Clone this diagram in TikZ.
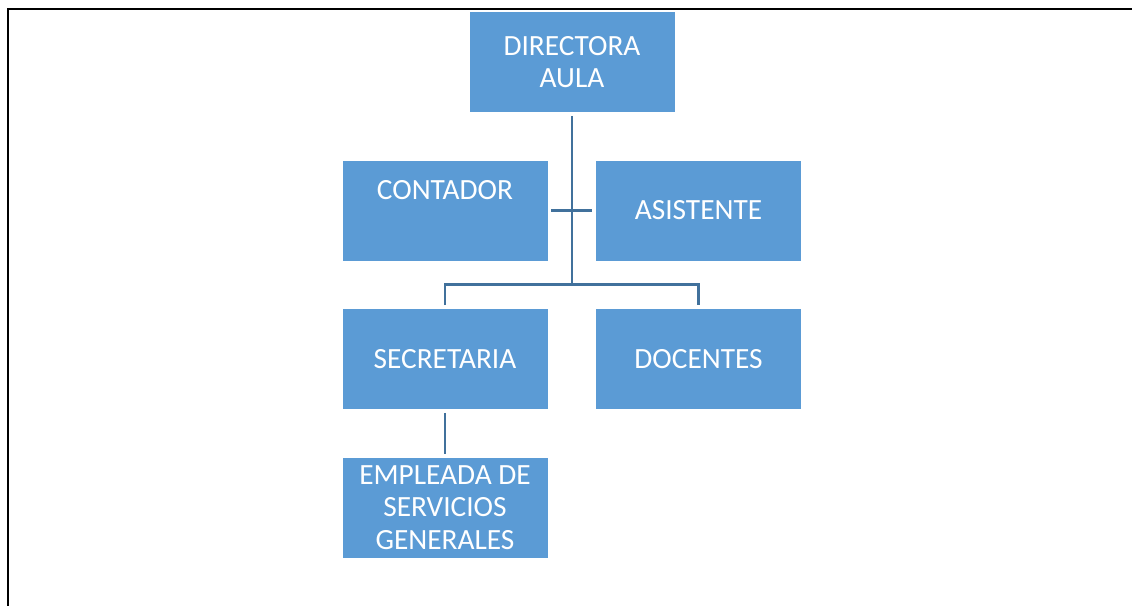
\documentclass[tikz,border=0pt]{standalone}
\usepackage{fontspec}
\setmainfont{Carlito}
\usetikzlibrary{positioning}
\usetikzlibrary{calc}
\definecolor{boxblue}{HTML}{5B9BD5}
\definecolor{lineblue}{HTML}{41719C}
\tikzset{>=latex}
\tikzstyle{orgnode}=[draw=white,line width=0.4pt,fill=boxblue,text=white,shape=rectangle,minimum width=154.5pt,minimum height=75.75pt,inner sep=0pt,align=center,font=\fontsize{22}{24.5}\selectfont]
\tikzstyle{orgline}=[line width=2pt,color=lineblue]
\tikzstyle{frameline}=[line width=1.7pt,color=black]
\begin{document}
\begin{tikzpicture}[x=0.75pt,y=-0.75pt]

	\useasboundingbox (0,0) rectangle (1132,606);

	% Frame
	\coordinate (fbot) at (8,606);
	\coordinate (fcorner) at (8,9);
	\coordinate (fright) at (1132,9);
	\draw[frameline] (fbot) -- (fcorner) -- (fright);

	% Boxes
	\node[orgnode] (dir) at (572,62) {DIRECTORA\\AULA};
	\node[orgnode] (cont) at (445,210.5) {CONTADOR\\[7pt]~};
	\node[orgnode] (asis) at (698.5,210.5) {ASISTENTE};
	\node[orgnode] (secr) at (445,359) {SECRETARIA};
	\node[orgnode] (doc) at (698.5,359) {DOCENTES};
	\node[orgnode] (emp) at (445,507.5) {EMPLEADA DE\\SERVICIOS\\GENERALES};

	% Connectors
	\coordinate (bus) at ($(dir.south) + (0,172)$);
	\draw[orgline] ($(dir.south) + (0,3)$) -- (bus);
	\draw[orgline] ($(cont.east) + (3,0)$) -- ($(asis.west) + (-3,0)$);
	\draw[orgline] ($(secr.north) + (0,-3)$) |- (bus) -| ($(doc.north) + (0,-3)$);
	\draw[orgline] ($(secr.south) + (0,3)$) -- ($(emp.north) + (0,-3)$);

\end{tikzpicture}
\end{document}
